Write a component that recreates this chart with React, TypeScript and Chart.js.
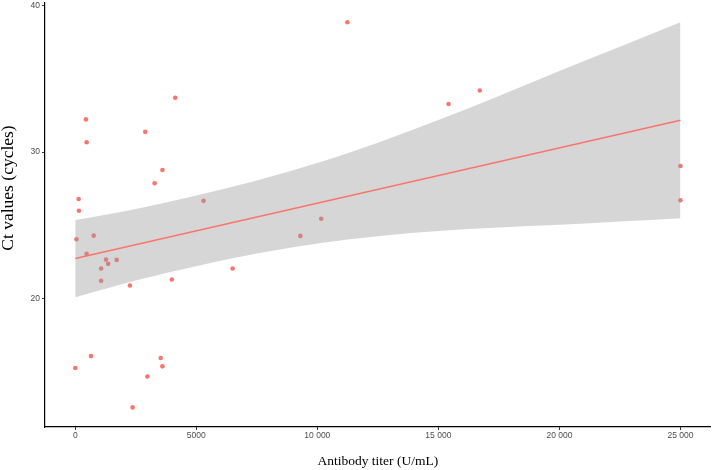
import React, { useEffect, useRef } from "react";
import { Chart, registerables } from "chart.js";

Chart.register(...registerables);

// Scatter data: antibody titer (U/mL) vs Ct value (cycles)
const titer = [
  11240, 440, 470, 4130, 2890, 3600, 3280, 140, 150, 5300, 760, 50, 9300, 10160,
  15420, 16710, 25000, 25000, 470, 1270, 1710, 1360, 1070, 1070, 2260, 3990, 6500,
  0, 650, 3530, 3600, 2980, 2370,
];
const ct = [
  38.89, 32.24, 30.68, 33.72, 31.39, 28.78, 27.87, 26.8, 25.99, 26.67, 24.29, 24.04, 24.27, 25.44,
  33.29, 34.22, 29.05, 26.71, 23.04, 22.65, 22.63, 22.36, 22.04, 21.2, 20.88, 21.29, 22.04,
  15.24, 16.05, 15.92, 15.35, 14.65, 12.54,
];

// Linear fit line (end points)
const fitX = [0, 25000];
const fitY = [22.72, 32.18];

// Confidence band
const bandX = [0, 2500, 5000, 7500, 10000, 12500, 15000, 17500, 20000, 22500, 25000];
const bandUpper = [25.36, 26.12, 27.03, 28.06, 29.25, 30.65, 32.2, 33.84, 35.55, 37.21, 38.88];
const bandLower = [20.08, 21.22, 22.19, 23.06, 23.75, 24.25, 24.6, 24.84, 25.03, 25.25, 25.48];

const xTicks = [0, 5000, 10000, 15000, 20000, 25000];
const yTicks = [20, 30, 40];
const xMin = -1250;
const xMax = 26250;
const yMin = 11.2;
const yMax = 40.25;

const xTitle = "Antibody titer (U/mL)";
const yTitle = "Ct values (cycles)";

function fmt(v: number): string {
  if (v >= 10000) {
    const s = String(v);
    return s.slice(0, s.length - 3) + " " + s.slice(s.length - 3);
  }
  return String(v);
}

const yTitlePlugin = {
  id: "yTitlePlugin",
  afterDraw(chart: any) {
    const ctx = chart.ctx;
    ctx.save();
    ctx.translate(8, 188);
    ctx.rotate(-Math.PI / 2);
    ctx.font = "17.5px 'Liberation Serif', 'Times New Roman', serif";
    ctx.fillStyle = "#000000";
    ctx.textAlign = "center";
    ctx.textBaseline = "middle";
    ctx.fillText(yTitle, 0, 0);
    ctx.restore();
  },
};

export default function App() {
  const ref = useRef<HTMLCanvasElement>(null);

  useEffect(() => {
    if (!ref.current) return;
    const tickFont = { family: "'Liberation Sans', Arial, sans-serif", size: 8.5 };
    const titleFont = { family: "'Liberation Serif', 'Times New Roman', serif", size: 13.5 };
    const chart = new Chart(ref.current, {
      type: "scatter",
      data: {
        datasets: [
          {
            type: "scatter",
            data: titer.map((x, i) => ({ x, y: ct[i] })),
            backgroundColor: "#F8766D",
            borderWidth: 0,
            pointRadius: 2.3,
            pointHoverRadius: 2.3,
            order: 3,
          } as any,
          {
            type: "line",
            data: bandX.map((x, i) => ({ x, y: bandLower[i] })),
            borderWidth: 0,
            borderColor: "rgba(0,0,0,0)",
            pointRadius: 0,
            fill: false,
            cubicInterpolationMode: "monotone",
            order: 2,
          } as any,
          {
            type: "line",
            data: bandX.map((x, i) => ({ x, y: bandUpper[i] })),
            borderWidth: 0,
            borderColor: "rgba(0,0,0,0)",
            backgroundColor: "rgba(153,153,153,0.4)",
            pointRadius: 0,
            fill: 1,
            cubicInterpolationMode: "monotone",
            order: 2,
          } as any,
          {
            type: "line",
            data: fitX.map((x, i) => ({ x, y: fitY[i] })),
            borderColor: "#F8766D",
            borderWidth: 1.5,
            pointRadius: 0,
            fill: false,
            order: 1,
          } as any,
        ],
      },
      options: {
        animation: false,
        responsive: false,
        maintainAspectRatio: false,
        events: [],
        layout: { padding: { top: 0, right: 1, bottom: 0, left: 0 } },
        plugins: {
          legend: { display: false },
          tooltip: { enabled: false },
        },
        scales: {
          x: {
            type: "linear",
            min: xMin,
            max: xMax,
            afterBuildTicks: (s: any) => {
              s.ticks = xTicks.map((v) => ({ value: v }));
            },
            afterFit: (s: any) => {
              s.height = 43;
              s.paddingLeft = 0;
              s.paddingRight = 0;
            },
            ticks: {
              color: "#4D4D4D",
              font: tickFont,
              padding: 1,
              maxRotation: 0,
              autoSkip: false,
              callback: (v: any) => fmt(Number(v)),
            },
            grid: {
              display: true,
              drawOnChartArea: false,
              drawTicks: true,
              tickLength: 3,
              tickColor: "#333333",
              tickWidth: 1,
              color: "rgba(0,0,0,0)",
            },
            border: { display: true, color: "#000000", width: 1.2 },
            title: {
              display: true,
              text: xTitle,
              color: "#000000",
              font: titleFont,
              padding: { top: 0, bottom: 0 },
            },
          },
          y: {
            type: "linear",
            min: yMin,
            max: yMax,
            afterBuildTicks: (s: any) => {
              s.ticks = yTicks.map((v) => ({ value: v }));
            },
            afterFit: (s: any) => {
              s.width = 45;
              s.paddingTop = 0;
              s.paddingBottom = 0;
            },
            ticks: {
              color: "#4D4D4D",
              font: tickFont,
              padding: 2,
              autoSkip: false,
              callback: (v: any) => String(v),
            },
            grid: {
              display: true,
              drawOnChartArea: false,
              drawTicks: true,
              tickLength: 3,
              tickColor: "#333333",
              tickWidth: 1,
              color: "rgba(0,0,0,0)",
            },
            border: { display: true, color: "#000000", width: 1.2 },
            title: { display: false },
          },
        },
      },
      plugins: [yTitlePlugin],
    } as any);
    return () => chart.destroy();
  }, []);

  return (
    <div style={{ position: "fixed", left: 0, top: 0, width: 713, height: 470, background: "#fff" }}>
      <canvas ref={ref} width={713} height={470} style={{ display: "block" }} />
    </div>
  );
}
